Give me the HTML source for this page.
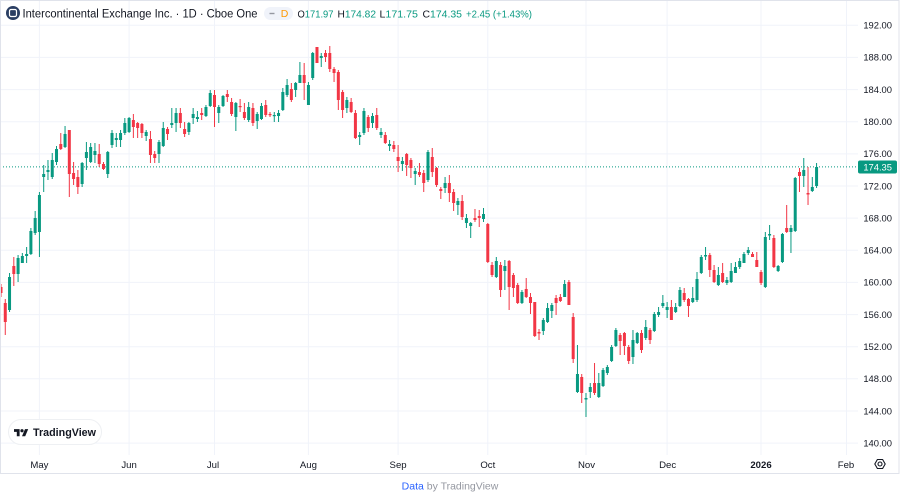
<!DOCTYPE html>
<html><head><meta charset="utf-8">
<style>
html,body{margin:0;padding:0;background:#fff;}
body{width:900px;height:498px;overflow:hidden;}
svg{display:block;}
.g{fill:#089981}.r{fill:#f23645}
.pl{font-family:"Liberation Sans",sans-serif;font-size:9.4px;fill:#131722;text-anchor:end;}
.tl{font-family:"Liberation Sans",sans-serif;font-size:9.6px;fill:#131722;text-anchor:middle;}
</style></head>
<body>
<svg width="900" height="498" viewBox="0 0 900 498" xmlns="http://www.w3.org/2000/svg">
<rect x="0" y="0" width="900" height="498" fill="#fff"/>
<!-- grid -->
<g stroke="#f0f3fa" stroke-width="1">
<line x1="0" x2="858" y1="25.3" y2="25.3"/><line x1="0" x2="858" y1="57.4" y2="57.4"/><line x1="0" x2="858" y1="89.6" y2="89.6"/><line x1="0" x2="858" y1="121.7" y2="121.7"/><line x1="0" x2="858" y1="153.9" y2="153.9"/><line x1="0" x2="858" y1="186" y2="186"/><line x1="0" x2="858" y1="218.1" y2="218.1"/><line x1="0" x2="858" y1="250.3" y2="250.3"/><line x1="0" x2="858" y1="282.4" y2="282.4"/><line x1="0" x2="858" y1="314.6" y2="314.6"/><line x1="0" x2="858" y1="346.7" y2="346.7"/><line x1="0" x2="858" y1="378.8" y2="378.8"/><line x1="0" x2="858" y1="411" y2="411"/><line x1="0" x2="858" y1="443.1" y2="443.1"/>
<line x1="39.4" x2="39.4" y1="0" y2="455"/><line x1="129.1" x2="129.1" y1="0" y2="455"/><line x1="214.5" x2="214.5" y1="0" y2="455"/><line x1="308.4" x2="308.4" y1="0" y2="455"/><line x1="398.1" x2="398.1" y1="0" y2="455"/><line x1="487.8" x2="487.8" y1="0" y2="455"/><line x1="586" x2="586" y1="0" y2="455"/><line x1="667.1" x2="667.1" y1="0" y2="455"/><line x1="761" x2="761" y1="0" y2="455"/><line x1="846.5" x2="846.5" y1="0" y2="455"/>
</g>
<!-- current price line -->
<line x1="0" x2="858" y1="166.9" y2="166.9" stroke="#089981" stroke-width="1" stroke-dasharray="1,2"/>
<!-- candles -->
<g transform="translate(1,0) scale(4.27,1)">
<g transform="translate(-0.117,0)">
<rect class="r" x="0" y="284" width=".234" height="13"/>
<rect class="r" x="1" y="299" width=".234" height="36"/>
<rect class="g" x="2" y="273" width=".234" height="39"/>
<rect class="r" x="3" y="257" width=".234" height="29"/>
<rect class="g" x="4" y="255" width=".234" height="27"/>
<rect class="g" x="5" y="253" width=".234" height="10"/>
<rect class="g" x="6" y="247" width=".234" height="16"/>
<rect class="g" x="7" y="228" width=".234" height="27"/>
<rect class="g" x="8" y="211" width=".234" height="24"/>
<rect class="g" x="9" y="192" width=".234" height="65"/>
<rect class="g" x="10" y="165" width=".234" height="27"/>
<rect class="g" x="11" y="160" width=".234" height="20"/>
<rect class="g" x="12" y="153" width=".234" height="26"/>
<rect class="g" x="13" y="146" width=".234" height="19"/>
<rect class="r" x="14" y="133" width=".234" height="17"/>
<rect class="g" x="15" y="126" width=".234" height="22"/>
<rect class="r" x="16" y="130" width=".234" height="67"/>
<rect class="r" x="17" y="162" width=".234" height="23"/>
<rect class="r" x="18" y="170" width=".234" height="24"/>
<rect class="g" x="19" y="162" width=".234" height="25"/>
<rect class="g" x="20" y="142" width=".234" height="28"/>
<rect class="g" x="21" y="143" width=".234" height="20"/>
<rect class="g" x="22" y="143" width=".234" height="20"/>
<rect class="r" x="23" y="144" width=".234" height="23"/>
<rect class="r" x="24" y="162" width=".234" height="8"/>
<rect class="g" x="25" y="151" width=".234" height="27"/>
<rect class="g" x="26" y="130" width=".234" height="18"/>
<rect class="g" x="27" y="133" width=".234" height="14"/>
<rect class="g" x="28" y="130" width=".234" height="17"/>
<rect class="g" x="29" y="118" width=".234" height="17"/>
<rect class="g" x="30" y="117" width=".234" height="16"/>
<rect class="r" x="31" y="114" width=".234" height="24"/>
<rect class="r" x="32" y="122" width=".234" height="16"/>
<rect class="r" x="33" y="123" width=".234" height="15"/>
<rect class="g" x="34" y="130" width=".234" height="11"/>
<rect class="r" x="35" y="131" width=".234" height="32"/>
<rect class="r" x="36" y="151" width=".234" height="12"/>
<rect class="g" x="37" y="140" width=".234" height="23"/>
<rect class="g" x="38" y="122" width=".234" height="25"/>
<rect class="r" x="39" y="127" width=".234" height="13"/>
<rect class="g" x="40" y="108" width=".234" height="20"/>
<rect class="g" x="41" y="108" width=".234" height="24"/>
<rect class="r" x="42" y="108" width=".234" height="20"/>
<rect class="r" x="43" y="122" width=".234" height="15"/>
<rect class="g" x="44" y="122" width=".234" height="13"/>
<rect class="g" x="45" y="108" width=".234" height="16"/>
<rect class="g" x="46" y="111" width=".234" height="11"/>
<rect class="r" x="47" y="108" width=".234" height="12"/>
<rect class="g" x="48" y="105" width=".234" height="12"/>
<rect class="g" x="49" y="90" width=".234" height="17"/>
<rect class="r" x="50" y="90" width=".234" height="37"/>
<rect class="g" x="51" y="105" width=".234" height="18"/>
<rect class="g" x="52" y="95" width=".234" height="12"/>
<rect class="r" x="53" y="90" width=".234" height="12"/>
<rect class="r" x="54" y="98" width=".234" height="18"/>
<rect class="g" x="55" y="102" width=".234" height="29"/>
<rect class="r" x="56" y="99" width=".234" height="13"/>
<rect class="r" x="57" y="103" width=".234" height="17"/>
<rect class="g" x="58" y="102" width=".234" height="20"/>
<rect class="r" x="59" y="103" width=".234" height="23"/>
<rect class="g" x="60" y="112" width=".234" height="17"/>
<rect class="g" x="61" y="103" width=".234" height="17"/>
<rect class="r" x="62" y="100" width=".234" height="17"/>
<rect class="r" x="63" y="112" width=".234" height="5"/>
<rect class="g" x="64" y="112" width=".234" height="10"/>
<rect class="g" x="65" y="110" width=".234" height="12"/>
<rect class="g" x="66" y="88" width=".234" height="23"/>
<rect class="g" x="67" y="79" width=".234" height="18"/>
<rect class="r" x="68" y="83" width=".234" height="19"/>
<rect class="g" x="69" y="82" width=".234" height="15"/>
<rect class="g" x="70" y="62" width=".234" height="21"/>
<rect class="r" x="71" y="63" width=".234" height="37"/>
<rect class="g" x="72" y="82" width=".234" height="23"/>
<rect class="g" x="73" y="52" width=".234" height="28"/>
<rect class="r" x="74" y="47" width=".234" height="16"/>
<rect class="g" x="75" y="53" width=".234" height="14"/>
<rect class="r" x="76" y="50" width=".234" height="12"/>
<rect class="r" x="77" y="46" width=".234" height="26"/>
<rect class="r" x="78" y="67" width=".234" height="15"/>
<rect class="r" x="79" y="70" width=".234" height="40"/>
<rect class="r" x="80" y="90" width=".234" height="28"/>
<rect class="g" x="81" y="97" width=".234" height="16"/>
<rect class="r" x="82" y="98" width=".234" height="15"/>
<rect class="r" x="83" y="110" width=".234" height="29"/>
<rect class="g" x="84" y="132" width=".234" height="13"/>
<rect class="g" x="85" y="108" width=".234" height="27"/>
<rect class="r" x="86" y="115" width=".234" height="17"/>
<rect class="g" x="87" y="113" width=".234" height="15"/>
<rect class="r" x="88" y="108" width=".234" height="22"/>
<rect class="g" x="89" y="128" width=".234" height="10"/>
<rect class="r" x="90" y="132" width=".234" height="12"/>
<rect class="g" x="91" y="140" width=".234" height="11"/>
<rect class="r" x="92" y="141" width=".234" height="11"/>
<rect class="r" x="93" y="145" width=".234" height="27"/>
<rect class="g" x="94" y="157" width=".234" height="14"/>
<rect class="r" x="95" y="153" width=".234" height="23"/>
<rect class="r" x="96" y="158" width=".234" height="20"/>
<rect class="g" x="97" y="168" width=".234" height="17"/>
<rect class="r" x="98" y="163" width=".234" height="14"/>
<rect class="r" x="99" y="170" width=".234" height="22"/>
<rect class="g" x="100" y="150" width=".234" height="32"/>
<rect class="r" x="101" y="148" width=".234" height="29"/>
<rect class="r" x="102" y="167" width=".234" height="20"/>
<rect class="r" x="103" y="187" width=".234" height="12"/>
<rect class="g" x="104" y="177" width=".234" height="16"/>
<rect class="r" x="105" y="175" width=".234" height="27"/>
<rect class="r" x="106" y="189" width=".234" height="22"/>
<rect class="g" x="107" y="198" width=".234" height="17"/>
<rect class="r" x="108" y="195" width=".234" height="25"/>
<rect class="g" x="109" y="214" width=".234" height="14"/>
<rect class="g" x="110" y="222" width=".234" height="16"/>
<rect class="r" x="111" y="209" width=".234" height="13"/>
<rect class="r" x="112" y="210" width=".234" height="17"/>
<rect class="g" x="113" y="208" width=".234" height="14"/>
<rect class="r" x="114" y="223" width=".234" height="40"/>
<rect class="r" x="115" y="262" width=".234" height="15"/>
<rect class="g" x="116" y="257" width=".234" height="21"/>
<rect class="r" x="117" y="262" width=".234" height="35"/>
<rect class="g" x="118" y="260" width=".234" height="30"/>
<rect class="r" x="119" y="260" width=".234" height="50"/>
<rect class="r" x="120" y="273" width=".234" height="24"/>
<rect class="r" x="121" y="283" width=".234" height="21"/>
<rect class="g" x="122" y="290" width=".234" height="14"/>
<rect class="r" x="123" y="278" width=".234" height="20"/>
<rect class="r" x="124" y="293" width=".234" height="21"/>
<rect class="r" x="125" y="302" width=".234" height="35"/>
<rect class="r" x="126" y="329" width=".234" height="11"/>
<rect class="g" x="127" y="318" width=".234" height="17"/>
<rect class="g" x="128" y="303" width=".234" height="20"/>
<rect class="g" x="129" y="303" width=".234" height="15"/>
<rect class="r" x="130" y="295" width=".234" height="20"/>
<rect class="r" x="131" y="294" width=".234" height="8"/>
<rect class="g" x="132" y="280" width=".234" height="17"/>
<rect class="r" x="133" y="280" width=".234" height="25"/>
<rect class="r" x="134" y="313" width=".234" height="50"/>
<rect class="g" x="135" y="345" width=".234" height="48"/>
<rect class="r" x="136" y="374" width=".234" height="29"/>
<rect class="g" x="137" y="393" width=".234" height="24"/>
<rect class="g" x="138" y="383" width=".234" height="15"/>
<rect class="r" x="139" y="363" width=".234" height="32"/>
<rect class="g" x="140" y="373" width=".234" height="25"/>
<rect class="g" x="141" y="368" width=".234" height="19"/>
<rect class="g" x="142" y="365" width=".234" height="10"/>
<rect class="g" x="143" y="345" width=".234" height="17"/>
<rect class="g" x="144" y="328" width=".234" height="19"/>
<rect class="r" x="145" y="333" width=".234" height="22"/>
<rect class="r" x="146" y="332" width=".234" height="23"/>
<rect class="r" x="147" y="345" width=".234" height="19"/>
<rect class="g" x="148" y="330" width=".234" height="34"/>
<rect class="g" x="149" y="332" width=".234" height="12"/>
<rect class="r" x="150" y="330" width=".234" height="23"/>
<rect class="g" x="151" y="320" width=".234" height="20"/>
<rect class="r" x="152" y="328" width=".234" height="16"/>
<rect class="g" x="153" y="312" width=".234" height="20"/>
<rect class="g" x="154" y="307" width=".234" height="10"/>
<rect class="g" x="155" y="295" width=".234" height="13"/>
<rect class="g" x="156" y="302" width=".234" height="16"/>
<rect class="r" x="157" y="300" width=".234" height="20"/>
<rect class="g" x="158" y="303" width=".234" height="10"/>
<rect class="g" x="159" y="287" width=".234" height="20"/>
<rect class="r" x="160" y="288" width=".234" height="14"/>
<rect class="r" x="161" y="298" width=".234" height="19"/>
<rect class="g" x="162" y="287" width=".234" height="16"/>
<rect class="g" x="163" y="272" width=".234" height="30"/>
<rect class="g" x="164" y="255" width=".234" height="19"/>
<rect class="g" x="165" y="247" width=".234" height="13"/>
<rect class="r" x="166" y="253" width=".234" height="24"/>
<rect class="r" x="167" y="265" width=".234" height="18"/>
<rect class="g" x="168" y="267" width=".234" height="19"/>
<rect class="r" x="169" y="263" width=".234" height="20"/>
<rect class="g" x="170" y="277" width=".234" height="8"/>
<rect class="g" x="171" y="263" width=".234" height="20"/>
<rect class="g" x="172" y="262" width=".234" height="11"/>
<rect class="g" x="173" y="258" width=".234" height="11"/>
<rect class="g" x="174" y="252" width=".234" height="11"/>
<rect class="g" x="175" y="247" width=".234" height="8"/>
<rect class="r" x="176" y="252" width=".234" height="5"/>
<rect class="r" x="177" y="252" width=".234" height="15"/>
<rect class="r" x="178" y="270" width=".234" height="15"/>
<rect class="g" x="179" y="232" width=".234" height="56"/>
<rect class="g" x="180" y="225" width=".234" height="15"/>
<rect class="r" x="181" y="235" width=".234" height="33"/>
<rect class="g" x="182" y="265" width=".234" height="7"/>
<rect class="g" x="183" y="233" width=".234" height="30"/>
<rect class="r" x="184" y="205" width=".234" height="28"/>
<rect class="g" x="185" y="225" width=".234" height="28"/>
<rect class="g" x="186" y="177" width=".234" height="55"/>
<rect class="r" x="187" y="168" width=".234" height="24"/>
<rect class="g" x="188" y="158" width=".234" height="29"/>
<rect class="r" x="189" y="167" width=".234" height="38"/>
<rect class="g" x="190" y="177" width=".234" height="15"/>
<rect class="g" x="191" y="163" width=".234" height="25"/>
</g>
<g transform="translate(-0.351,0)">
<rect class="r" x="0" y="287" width=".703" height="6"/>
<rect class="r" x="1" y="303" width=".703" height="19"/>
<rect class="g" x="2" y="277" width=".703" height="33"/>
<rect class="r" x="3" y="266" width=".703" height="8"/>
<rect class="g" x="4" y="258" width=".703" height="16"/>
<rect class="g" x="5" y="256" width=".703" height="7"/>
<rect class="g" x="6" y="254" width=".703" height="2"/>
<rect class="g" x="7" y="231" width=".703" height="23"/>
<rect class="g" x="8" y="218" width=".703" height="15"/>
<rect class="g" x="9" y="195" width=".703" height="37"/>
<rect class="g" x="10" y="174" width=".703" height="3"/>
<rect class="g" x="11" y="170" width=".703" height="2"/>
<rect class="g" x="12" y="160" width=".703" height="17"/>
<rect class="g" x="13" y="149" width=".703" height="13"/>
<rect class="r" x="14" y="144" width=".703" height="5"/>
<rect class="g" x="15" y="134" width=".703" height="13"/>
<rect class="r" x="16" y="130" width=".703" height="44"/>
<rect class="r" x="17" y="173" width=".703" height="6"/>
<rect class="r" x="18" y="177" width=".703" height="10"/>
<rect class="g" x="19" y="163" width=".703" height="21"/>
<rect class="g" x="20" y="152" width=".703" height="6"/>
<rect class="g" x="21" y="147" width=".703" height="15"/>
<rect class="g" x="22" y="151" width=".703" height="4"/>
<rect class="r" x="23" y="154" width=".703" height="10"/>
<rect class="r" x="24" y="164" width=".703" height="5"/>
<rect class="g" x="25" y="152" width=".703" height="22"/>
<rect class="g" x="26" y="133" width=".703" height="12"/>
<rect class="g" x="27" y="138" width=".703" height="2"/>
<rect class="g" x="28" y="133" width=".703" height="7"/>
<rect class="g" x="29" y="123" width=".703" height="10"/>
<rect class="g" x="30" y="118" width=".703" height="14"/>
<rect class="r" x="31" y="120" width=".703" height="7"/>
<rect class="r" x="32" y="123" width=".703" height="5"/>
<rect class="r" x="33" y="124" width=".703" height="9"/>
<rect class="g" x="34" y="132" width=".703" height="4"/>
<rect class="r" x="35" y="139" width=".703" height="16"/>
<rect class="r" x="36" y="154" width=".703" height="4"/>
<rect class="g" x="37" y="142" width=".703" height="12"/>
<rect class="g" x="38" y="128" width=".703" height="18"/>
<rect class="r" x="39" y="129" width=".703" height="5"/>
<rect class="g" x="40" y="123" width=".703" height="2"/>
<rect class="g" x="41" y="113" width=".703" height="10"/>
<rect class="r" x="42" y="113" width=".703" height="10"/>
<rect class="r" x="43" y="129" width=".703" height="5"/>
<rect class="g" x="44" y="123" width=".703" height="9"/>
<rect class="g" x="45" y="114" width=".703" height="4"/>
<rect class="g" x="46" y="117" width=".703" height="2"/>
<rect class="r" x="47" y="113" width=".703" height="2"/>
<rect class="g" x="48" y="107" width=".703" height="9"/>
<rect class="g" x="49" y="93" width=".703" height="13"/>
<rect class="r" x="50" y="95" width=".703" height="12"/>
<rect class="g" x="51" y="107" width=".703" height="6"/>
<rect class="g" x="52" y="96" width=".703" height="10"/>
<rect class="r" x="53" y="94" width=".703" height="3"/>
<rect class="r" x="54" y="102" width=".703" height="12"/>
<rect class="g" x="55" y="103" width=".703" height="14"/>
<rect class="r" x="56" y="106" width=".703" height="1.2"/>
<rect class="r" x="57" y="112" width=".703" height="6"/>
<rect class="g" x="58" y="107" width=".703" height="13"/>
<rect class="r" x="59" y="108" width=".703" height="15"/>
<rect class="g" x="60" y="114" width=".703" height="7"/>
<rect class="g" x="61" y="106" width=".703" height="13"/>
<rect class="r" x="62" y="105" width=".703" height="10"/>
<rect class="r" x="63" y="114" width=".703" height="1.2"/>
<rect class="g" x="64" y="115" width=".703" height="1.2"/>
<rect class="g" x="65" y="113" width=".703" height="3"/>
<rect class="g" x="66" y="92" width=".703" height="18"/>
<rect class="g" x="67" y="85" width=".703" height="10"/>
<rect class="r" x="68" y="89" width=".703" height="11"/>
<rect class="g" x="69" y="83" width=".703" height="7"/>
<rect class="g" x="70" y="75" width=".703" height="8"/>
<rect class="r" x="71" y="75" width=".703" height="8"/>
<rect class="g" x="72" y="85" width=".703" height="20"/>
<rect class="g" x="73" y="53" width=".703" height="25"/>
<rect class="r" x="74" y="47" width=".703" height="16"/>
<rect class="g" x="75" y="56" width=".703" height="2"/>
<rect class="r" x="76" y="53" width=".703" height="4"/>
<rect class="r" x="77" y="53" width=".703" height="16"/>
<rect class="r" x="78" y="69" width=".703" height="4"/>
<rect class="r" x="79" y="72" width=".703" height="28"/>
<rect class="r" x="80" y="92" width=".703" height="18"/>
<rect class="g" x="81" y="100" width=".703" height="8"/>
<rect class="r" x="82" y="102" width=".703" height="10"/>
<rect class="r" x="83" y="113" width=".703" height="25"/>
<rect class="g" x="84" y="135" width=".703" height="2"/>
<rect class="g" x="85" y="111" width=".703" height="22"/>
<rect class="r" x="86" y="117" width=".703" height="11"/>
<rect class="g" x="87" y="116" width=".703" height="7"/>
<rect class="r" x="88" y="115" width=".703" height="13"/>
<rect class="g" x="89" y="132" width=".703" height="3"/>
<rect class="r" x="90" y="135" width=".703" height="8"/>
<rect class="g" x="91" y="144" width=".703" height="2"/>
<rect class="r" x="92" y="145" width=".703" height="4"/>
<rect class="r" x="93" y="157" width=".703" height="4"/>
<rect class="g" x="94" y="161" width=".703" height="3"/>
<rect class="r" x="95" y="154" width=".703" height="11"/>
<rect class="r" x="96" y="160" width=".703" height="8"/>
<rect class="g" x="97" y="171" width=".703" height="3"/>
<rect class="r" x="98" y="172" width=".703" height="3"/>
<rect class="r" x="99" y="173" width=".703" height="10"/>
<rect class="g" x="100" y="152" width=".703" height="28"/>
<rect class="r" x="101" y="157" width=".703" height="15"/>
<rect class="r" x="102" y="168" width=".703" height="17"/>
<rect class="r" x="103" y="189" width=".703" height="2"/>
<rect class="g" x="104" y="183" width=".703" height="5"/>
<rect class="r" x="105" y="183" width=".703" height="10"/>
<rect class="r" x="106" y="192" width=".703" height="11"/>
<rect class="g" x="107" y="201" width=".703" height="4"/>
<rect class="r" x="108" y="201" width=".703" height="16"/>
<rect class="g" x="109" y="218" width=".703" height="5"/>
<rect class="g" x="110" y="223" width=".703" height="3"/>
<rect class="r" x="111" y="218" width=".703" height="2"/>
<rect class="r" x="112" y="216" width=".703" height="2"/>
<rect class="g" x="113" y="214" width=".703" height="5"/>
<rect class="r" x="114" y="224" width=".703" height="38"/>
<rect class="r" x="115" y="265" width=".703" height="10"/>
<rect class="g" x="116" y="261" width=".703" height="16"/>
<rect class="r" x="117" y="265" width=".703" height="25"/>
<rect class="g" x="118" y="266" width=".703" height="5"/>
<rect class="r" x="119" y="261" width=".703" height="26"/>
<rect class="r" x="120" y="275" width=".703" height="13"/>
<rect class="r" x="121" y="285" width=".703" height="18"/>
<rect class="g" x="122" y="292" width=".703" height="11"/>
<rect class="r" x="123" y="289" width=".703" height="8"/>
<rect class="r" x="124" y="297" width=".703" height="6"/>
<rect class="r" x="125" y="302" width=".703" height="34"/>
<rect class="r" x="126" y="332" width=".703" height="1.5"/>
<rect class="g" x="127" y="320" width=".703" height="11"/>
<rect class="g" x="128" y="308" width=".703" height="14"/>
<rect class="g" x="129" y="305" width=".703" height="6"/>
<rect class="r" x="130" y="298" width=".703" height="5"/>
<rect class="r" x="131" y="297" width=".703" height="4"/>
<rect class="g" x="132" y="284" width=".703" height="13"/>
<rect class="r" x="133" y="282" width=".703" height="23"/>
<rect class="r" x="134" y="317" width=".703" height="42"/>
<rect class="g" x="135" y="374" width=".703" height="18"/>
<rect class="r" x="136" y="377" width=".703" height="16"/>
<rect class="g" x="137" y="398" width=".703" height="1.5"/>
<rect class="g" x="138" y="387" width=".703" height="5"/>
<rect class="r" x="139" y="383" width=".703" height="10"/>
<rect class="g" x="140" y="383" width=".703" height="14"/>
<rect class="g" x="141" y="370" width=".703" height="16"/>
<rect class="g" x="142" y="367" width=".703" height="6"/>
<rect class="g" x="143" y="347" width=".703" height="14"/>
<rect class="g" x="144" y="330" width=".703" height="16"/>
<rect class="r" x="145" y="335" width=".703" height="6"/>
<rect class="r" x="146" y="333" width=".703" height="13"/>
<rect class="r" x="147" y="347" width=".703" height="14"/>
<rect class="g" x="148" y="340" width=".703" height="17"/>
<rect class="g" x="149" y="333" width=".703" height="10"/>
<rect class="r" x="150" y="333" width=".703" height="17"/>
<rect class="g" x="151" y="327" width=".703" height="11"/>
<rect class="r" x="152" y="330" width=".703" height="10"/>
<rect class="g" x="153" y="314" width=".703" height="17"/>
<rect class="g" x="154" y="312" width=".703" height="3"/>
<rect class="g" x="155" y="303" width=".703" height="3"/>
<rect class="g" x="156" y="307" width=".703" height="3"/>
<rect class="r" x="157" y="307" width=".703" height="13"/>
<rect class="g" x="158" y="307" width=".703" height="5"/>
<rect class="g" x="159" y="290" width=".703" height="16"/>
<rect class="r" x="160" y="293" width=".703" height="7"/>
<rect class="r" x="161" y="299" width=".703" height="7"/>
<rect class="g" x="162" y="298" width=".703" height="4"/>
<rect class="g" x="163" y="279" width=".703" height="21"/>
<rect class="g" x="164" y="257" width=".703" height="16"/>
<rect class="g" x="165" y="255" width=".703" height="1.5"/>
<rect class="r" x="166" y="255" width=".703" height="15"/>
<rect class="r" x="167" y="270" width=".703" height="12"/>
<rect class="g" x="168" y="275" width=".703" height="10"/>
<rect class="r" x="169" y="273" width=".703" height="9"/>
<rect class="g" x="170" y="280" width=".703" height="3"/>
<rect class="g" x="171" y="271" width=".703" height="11"/>
<rect class="g" x="172" y="267" width=".703" height="6"/>
<rect class="g" x="173" y="261" width=".703" height="6"/>
<rect class="g" x="174" y="254" width=".703" height="9"/>
<rect class="g" x="175" y="250" width=".703" height="3"/>
<rect class="r" x="176" y="254" width=".703" height="3"/>
<rect class="r" x="177" y="260" width=".703" height="7"/>
<rect class="r" x="178" y="272" width=".703" height="11"/>
<rect class="g" x="179" y="237" width=".703" height="50"/>
<rect class="g" x="180" y="234" width=".703" height="1.5"/>
<rect class="r" x="181" y="238" width=".703" height="29"/>
<rect class="g" x="182" y="266" width=".703" height="5"/>
<rect class="g" x="183" y="234" width=".703" height="28"/>
<rect class="r" x="184" y="228" width=".703" height="4"/>
<rect class="g" x="185" y="228" width=".703" height="4"/>
<rect class="g" x="186" y="178" width=".703" height="53"/>
<rect class="r" x="187" y="172" width=".703" height="4"/>
<rect class="g" x="188" y="170" width=".703" height="6"/>
<rect class="r" x="189" y="193" width=".703" height="1.5"/>
<rect class="g" x="190" y="187" width=".703" height="4"/>
<rect class="g" x="191" y="167" width=".703" height="19"/>
</g>
</g>
<!-- price axis labels -->
<g class="pl">
<text x="892" y="28.6">192.00</text>
<text x="892" y="60.7">188.00</text>
<text x="892" y="92.9">184.00</text>
<text x="892" y="125">180.00</text>
<text x="892" y="157.2">176.00</text>
<text x="892" y="189.3">172.00</text>
<text x="892" y="221.4">168.00</text>
<text x="892" y="253.6">164.00</text>
<text x="892" y="285.7">160.00</text>
<text x="892" y="317.9">156.00</text>
<text x="892" y="350">152.00</text>
<text x="892" y="382.1">148.00</text>
<text x="892" y="414.3">144.00</text>
<text x="892" y="446.4">140.00</text>
</g>
<!-- last price label -->
<rect x="858" y="160.5" width="39" height="13" rx="2" fill="#089981"/>
<text x="892" y="170.3" font-family="Liberation Sans, sans-serif" font-size="9.4" fill="#fff" text-anchor="end">174.35</text>
<!-- time axis -->
<g class="tl">
<text x="39.4" y="468">May</text>
<text x="129.1" y="468">Jun</text>
<text x="213" y="468">Jul</text>
<text x="308.4" y="468">Aug</text>
<text x="398.1" y="468">Sep</text>
<text x="487.8" y="468">Oct</text>
<text x="586.5" y="468">Nov</text>
<text x="667.6" y="468">Dec</text>
<text x="761" y="468" font-weight="bold">2026</text>
<text x="846" y="468">Feb</text>
</g>
<!-- gear -->
<g transform="translate(880,464)" fill="none" stroke="#131722" stroke-width="1.1">
<polygon points="5.2,0 2.6,4.5 -2.6,4.5 -5.2,0 -2.6,-4.5 2.6,-4.5" stroke-linejoin="round"/>
<circle cx="0" cy="0" r="2"/>
</g>
<!-- header -->
<circle cx="13" cy="13" r="7" fill="#2b3f63"/>
<rect x="9.5" y="9.5" width="7" height="7" rx="1.5" fill="none" stroke="#fff" stroke-width="1.2"/>
<text x="22.5" y="17.5" font-family="Liberation Sans, sans-serif" font-size="11.5" fill="#131722" textLength="235" lengthAdjust="spacingAndGlyphs">Intercontinental Exchange Inc. · 1D · Cboe One</text>
<rect x="264" y="7" width="29" height="13" rx="6.5" fill="#f0f3fa"/>
<rect x="269.5" y="12.8" width="5" height="1.4" fill="#9598a1"/>
<text x="284.5" y="17.2" font-family="Liberation Sans, sans-serif" font-size="10.5" fill="#ff9800" text-anchor="middle">D</text>
<g font-family="Liberation Sans, sans-serif" font-size="10.2">
<text x="297.5" y="17.3" fill="#131722" textLength="36" lengthAdjust="spacingAndGlyphs">O<tspan fill="#089981">171.97</tspan></text>
<text x="337.5" y="17.3" fill="#131722" textLength="38.5" lengthAdjust="spacingAndGlyphs">H<tspan fill="#089981">174.82</tspan></text>
<text x="379.5" y="17.3" fill="#131722" textLength="38.5" lengthAdjust="spacingAndGlyphs">L<tspan fill="#089981">171.75</tspan></text>
<text x="422.5" y="17.3" fill="#131722" textLength="39.5" lengthAdjust="spacingAndGlyphs">C<tspan fill="#089981">174.35</tspan></text>
<text x="466" y="17.3" fill="#089981" textLength="66" lengthAdjust="spacingAndGlyphs">+2.45 (+1.43%)</text>
</g>
<!-- TradingView badge -->
<rect x="8.5" y="419.5" width="93" height="25" rx="12.5" fill="#fff" stroke="#eef0f3"/>
<g transform="translate(14,427.5) scale(0.4)" fill="#131722">
<path d="M14 22H7V11H0V4h14v18zM28 22h-8l7.5-18h8L28 22z"/>
<circle cx="20" cy="8" r="4"/>
</g>
<text x="33" y="436" font-family="Liberation Sans, sans-serif" font-size="11" font-weight="bold" fill="#131722" textLength="63" lengthAdjust="spacingAndGlyphs">TradingView</text>
<!-- outer border -->
<rect x="0.5" y="0.5" width="898.5" height="473" fill="none" stroke="#e0e3eb" stroke-width="1"/>
<!-- footer -->
<text x="450" y="489.5" font-family="Liberation Sans, sans-serif" font-size="10.5" text-anchor="middle" fill="#9598a1"><tspan fill="#2962ff">Data</tspan> by TradingView</text>
</svg>
</body></html>
